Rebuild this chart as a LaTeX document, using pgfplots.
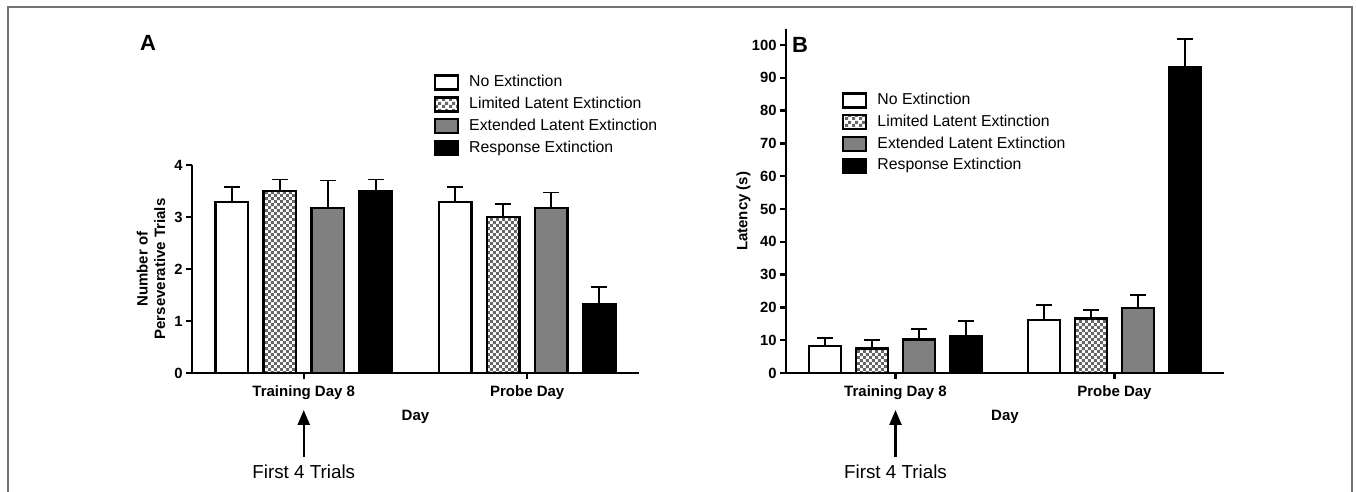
\documentclass[border=0pt]{standalone}
\usepackage{pgfplots}
\pgfplotsset{compat=1.18}
\usepackage{fontspec}
\setmainfont{Liberation Sans}
\usetikzlibrary{patterns,arrows.meta}

\pgfdeclarepatternformonly{mychecker}{\pgfpointorigin}{\pgfqpoint{3.2pt}{3.2pt}}{\pgfqpoint{3.2pt}{3.2pt}}{%
  \pgfpathrectangle{\pgfpointorigin}{\pgfqpoint{1.6pt}{1.6pt}}%
  \pgfpathrectangle{\pgfqpoint{1.6pt}{1.6pt}}{\pgfqpoint{1.6pt}{1.6pt}}%
  \pgfusepath{fill}}

\definecolor{midgray}{RGB}{128,128,128}

\pgfplotsset{
  mybars/.style={
    scale only axis,
    anchor=south west,
    xmin=-0.5, xmax=1.5, ymin=0,
    axis lines=left,
    axis line style={line width=1.2pt, -},
    xtick={0,1},
    xticklabels={Training Day 8, Probe Day},
    tick style={line width=1.2pt, black},
    major tick length=3pt,
    tick align=outside,
    xtick pos=bottom, ytick pos=left,
    /pgf/number format/assume math mode=true,
    xticklabel style={font=\bfseries\fontsize{7.5}{8}\selectfont},
    yticklabel style={font=\bfseries\fontsize{7.4}{8}\selectfont, inner sep=1.5pt},
    label style={font=\bfseries\fontsize{7.5}{8.7}\selectfont},
    xlabel={Day},
    xlabel style={at={(axis description cs:0.5,0)}, anchor=center, yshift=-22pt},
    clip=false,
    legend cell align=left,
    legend style={draw=none, fill=none, inner sep=0pt, outer sep=0pt,
      anchor=north west,
      font=\fontsize{7.9}{9}\selectfont,
      row sep=2.4pt,
      nodes={inner sep=0.5pt, text height=5.8pt, text depth=1.7pt},
      /tikz/every odd column/.append style={column sep=4.5pt}},
  },
  mylegimg/.style={legend image code/.code={\draw[##1,line width=1.2pt] (0pt,-3.5pt) rectangle (11.5pt,3.5pt);}},
  ebar/.style={error bars/.cd, y dir=plus, y explicit,
    error bar style={line width=0.9pt, black},
    error mark options={rotate=90, mark size=4pt, line width=0.9pt, black}},
}

\begin{document}
\begin{tikzpicture}
\useasboundingbox (0,0) rectangle (678pt,246pt);
\draw[black!55, line width=0.6pt] (4pt,-2pt) -- (4pt,242.5pt) -- (676pt,242.5pt) -- (676pt,-2pt);

% Panel A
\begin{axis}[mybars,
  at={(96pt,59.5pt)},
  width=223.5pt, height=104pt,
  ymax=4, ytick={0,1,2,3,4},
  ybar=7.75pt, bar width=16.25pt,
  mylegimg,
  ylabel={Number of\\Perseverative Trials},
  ylabel style={at={(axis description cs:-0.0917,0.5)}, anchor=center, align=center},
  legend style={at={(0.541,1.4375)}},
]
\addplot[draw=black, fill=white, line width=1.2pt, ebar] coordinates {(0,3.29) +- (0,0.28) (1,3.29) +- (0,0.28)};
\addplot[draw=black, pattern=mychecker, pattern color=black!60, line width=1.2pt, ebar] coordinates {(0,3.50) +- (0,0.22) (1,3.00) +- (0,0.25)};
\addplot[draw=black, fill=midgray, line width=1.2pt, ebar] coordinates {(0,3.17) +- (0,0.53) (1,3.17) +- (0,0.30)};
\addplot[draw=black, fill=black, line width=1.2pt, ebar] coordinates {(0,3.50) +- (0,0.22) (1,1.33) +- (0,0.33)};
\legend{No Extinction, Limited Latent Extinction, Extended Latent Extinction, Response Extinction}
\draw[line width=1.2pt, -{Triangle[width=6pt,length=7.5pt]}] ([yshift=-42pt]axis cs:0,0) -- ([yshift=-18.5pt]axis cs:0,0);
\node[font=\fontsize{9.4}{11}\selectfont, anchor=center] at ([yshift=-49.5pt]axis cs:0,0) {First 4 Trials};
\end{axis}

% Panel B
\begin{axis}[mybars,
  at={(393pt,59.5pt)},
  width=219pt, height=172pt,
  ymax=104.9, ytick={0,10,...,100},
  ybar=7.5pt, bar width=16pt,
  mylegimg,
  ylabel={Latency (s)},
  ylabel style={at={(axis description cs:-0.097,0.47)}, anchor=center},
  legend style={at={(0.128,0.817)}},
]
\addplot[draw=black, fill=white, line width=1.2pt, ebar] coordinates {(0,8.3) +- (0,2.4) (1,16.2) +- (0,4.5)};
\addplot[draw=black, pattern=mychecker, pattern color=black!60, line width=1.2pt, ebar] coordinates {(0,7.5) +- (0,2.45) (1,16.65) +- (0,2.65)};
\addplot[draw=black, fill=midgray, line width=1.2pt, ebar] coordinates {(0,10.25) +- (0,3.15) (1,19.9) +- (0,4.0)};
\addplot[draw=black, fill=black, line width=1.2pt, ebar] coordinates {(0,11.07) +- (0,4.85) (1,93.1) +- (0,8.7)};
\legend{No Extinction, Limited Latent Extinction, Extended Latent Extinction, Response Extinction}
\draw[line width=1.2pt, -{Triangle[width=6pt,length=7.5pt]}] ([yshift=-42pt]axis cs:0,0) -- ([yshift=-18.5pt]axis cs:0,0);
\node[font=\fontsize{9.4}{11}\selectfont, anchor=center] at ([yshift=-49.5pt]axis cs:0,0) {First 4 Trials};
\end{axis}

\node[font=\bfseries\fontsize{11}{12}\selectfont] at (74pt,224.5pt) {A};
\node[font=\bfseries\fontsize{11}{12}\selectfont] at (400pt,223.5pt) {B};
\end{tikzpicture}
\end{document}
